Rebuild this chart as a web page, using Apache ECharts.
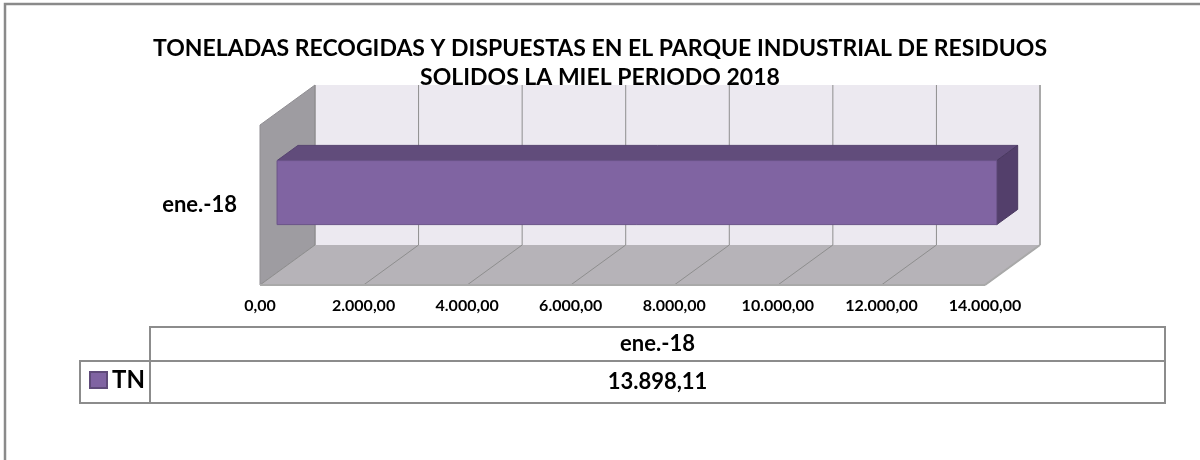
<!DOCTYPE html>
<html>
<head>
<meta charset="utf-8">
<script src="https://cdn.jsdelivr.net/npm/echarts@6/dist/echarts.min.js"></script>
<style>
html, body { margin: 0; padding: 0; background: #fff; }
#chart { width: 1200px; height: 460px; }
</style>
</head>
<body>
<div id="chart"></div>
<script>
var titleLines = ['TONELADAS RECOGIDAS Y DISPUESTAS EN EL PARQUE INDUSTRIAL DE RESIDUOS', 'SOLIDOS LA MIEL PERIODO 2018'];
var categories = ['ene.-18'];
var seriesName = 'TN';
var tnValues = [13898.11];
var axisMin = 0, axisMax = 14000, axisStep = 2000;

// 13898.11 -> "13.898,11"
function fmt(v) {
    var p = v.toFixed(2).split('.');
    return p[0].replace(/\B(?=(\d{3})+(?!\d))/g, '.') + ',' + p[1];
}

var font = 'Lato, Carlito, Calibri, sans-serif';
var depth = [55, -40];      // offset from front plane to back wall
var barFront = 0.31, barDepth = 0.38, barShare = 0.4;

function renderWalls(params, api) {
    var cs = params.coordSys;
    var dx = depth[0], dy = depth[1];
    var x0 = cs.x, x1 = cs.x + cs.width, top = cs.y, bottom = cs.y + cs.height;
    var children = [];
    children.push({ type: 'polygon', shape: { points: [[x0 + dx, top + dy], [x1 + dx, top + dy], [x1 + dx, bottom + dy], [x0 + dx, bottom + dy]] },
        style: { fill: '#ECE9F0', stroke: null } });
    children.push({ type: 'polygon', shape: { points: [[x0, top], [x0 + dx, top + dy], [x0 + dx, bottom + dy], [x0, bottom]] },
        style: { fill: '#9E9CA1', stroke: '#8f8d92', lineWidth: 1 } });
    children.push({ type: 'polygon', shape: { points: [[x0, bottom], [x1, bottom], [x1 + dx, bottom + dy], [x0 + dx, bottom + dy]] },
        style: { fill: '#B6B3B8', stroke: null } });
    for (var t = axisMin; t <= axisMax; t += axisStep) {
        var x = api.coord([t, 0])[0];
        children.push({ type: 'line', shape: { x1: x + dx, y1: top + dy, x2: x + dx, y2: bottom + dy },
            style: { stroke: '#8E8E8E', lineWidth: 1 } });
        children.push({ type: 'line', shape: { x1: x, y1: bottom, x2: x + dx, y2: bottom + dy },
            style: { stroke: '#8E8E8E', lineWidth: 1 } });
    }
    children.push({ type: 'line', shape: { x1: x0, y1: bottom, x2: x1, y2: bottom }, style: { stroke: '#A9A9A9', lineWidth: 2 } });
    children.push({ type: 'line', shape: { x1: x1 + dx, y1: top + dy, x2: x1 + dx, y2: bottom + dy }, style: { stroke: '#A9A9A9', lineWidth: 2 } });
    children.push({ type: 'line', shape: { x1: x1, y1: bottom, x2: x1 + dx, y2: bottom + dy }, style: { stroke: '#A9A9A9', lineWidth: 2 } });
    return { type: 'group', children: children };
}

function renderBar(params, api) {
    var c = api.value(1);
    var band = api.size([0, 1])[1];
    var p0 = api.coord([axisMin, c]), p1 = api.coord([api.value(0), c]);
    var h = band * barShare;
    var fx0 = p0[0] + depth[0] * barFront, fx1 = p1[0] + depth[0] * barFront;
    var fy0 = p0[1] + depth[1] * barFront - h / 2, fy1 = fy0 + h;
    var bx = depth[0] * barDepth, by = depth[1] * barDepth;
    return { type: 'group', children: [
        { type: 'polygon', shape: { points: [[fx0, fy0], [fx1, fy0], [fx1 + bx, fy0 + by], [fx0 + bx, fy0 + by]] },
          style: { fill: '#614C7B', stroke: '#574470', lineWidth: 1 } },
        { type: 'polygon', shape: { points: [[fx1, fy0], [fx1 + bx, fy0 + by], [fx1 + bx, fy1 + by], [fx1, fy1]] },
          style: { fill: '#533F6B', stroke: '#4a3960', lineWidth: 1 } },
        { type: 'rect', shape: { x: fx0, y: fy0, width: fx1 - fx0, height: h },
          style: { fill: '#8064A2', stroke: '#6A5388', lineWidth: 1 } }
    ] };
}

// data table below the chart
var tableLeft = 80, keyRight = 150, tableRight = 1165;
var headTop = 327, rowTop = 361, rowBottom = 403;
var tableGraphics = [
    { type: 'rect', shape: { x: 5, y: 4, width: 1210, height: 480 }, style: { fill: null, stroke: '#8A8A8A', lineWidth: 2.5 } },
    { type: 'rect', shape: { x: keyRight, y: headTop, width: tableRight - keyRight, height: rowTop - headTop }, style: { fill: null, stroke: '#8C8C8C', lineWidth: 2 } },
    { type: 'rect', shape: { x: tableLeft, y: rowTop, width: tableRight - tableLeft, height: rowBottom - rowTop }, style: { fill: null, stroke: '#8C8C8C', lineWidth: 2 } },
    { type: 'line', shape: { x1: keyRight, y1: rowTop, x2: keyRight, y2: rowBottom }, style: { stroke: '#8C8C8C', lineWidth: 2 } }
];
var colW = (tableRight - keyRight) / categories.length;
categories.forEach(function (cat, i) {
    var cx = keyRight + colW * (i + 0.5);
    if (i > 0) {
        tableGraphics.push({ type: 'line', shape: { x1: keyRight + colW * i, y1: headTop, x2: keyRight + colW * i, y2: rowBottom }, style: { stroke: '#8C8C8C', lineWidth: 2 } });
    }
    tableGraphics.push({ type: 'text', x: cx, y: (headTop + rowTop) / 2, style: { text: cat, fill: '#000', font: 'bold 22px ' + font, textAlign: 'center', textVerticalAlign: 'middle' } });
    tableGraphics.push({ type: 'text', x: cx, y: (rowTop + rowBottom) / 2, style: { text: fmt(tnValues[i]), fill: '#000', font: 'bold 22px ' + font, textAlign: 'center', textVerticalAlign: 'middle' } });
});

var myChart = echarts.init(document.getElementById('chart'));
option = {
    animation: false,
    title: {
        text: titleLines.join('\n'),
        left: 'center',
        top: 29,
        textStyle: { fontFamily: font, fontSize: 23, fontWeight: 'bold', color: '#000', lineHeight: 29 }
    },
    legend: {
        data: [seriesName],
        left: 89,
        top: 368,
        padding: 0,
        icon: 'rect',
        itemWidth: 17,
        itemHeight: 16,
        textStyle: { fontFamily: font, fontSize: 24, fontWeight: 'bold', color: '#000' }
    },
    grid: { left: 260, right: 215, top: 125, bottom: 175, outerBoundsMode: 'none' },
    xAxis: {
        type: 'value',
        min: axisMin,
        max: axisMax,
        interval: axisStep,
        axisLine: { show: false },
        axisTick: { show: false },
        splitLine: { show: false },
        axisLabel: { formatter: fmt, margin: 13, fontFamily: font, fontSize: 16, fontWeight: 'bold', color: '#000' }
    },
    yAxis: {
        type: 'category',
        data: categories,
        axisLine: { show: false },
        axisTick: { show: false },
        axisLabel: { margin: 23, padding: [8, 0, 0, 0], fontFamily: font, fontSize: 22, fontWeight: 'bold', color: '#000' }
    },
    graphic: tableGraphics,
    series: [{
            name: 'walls',
            type: 'custom',
            renderItem: renderWalls,
            data: [[axisMin, 0]],
            silent: true,
            z: 1
        },
        {
            name: seriesName,
            type: 'custom',
            renderItem: renderBar,
            encode: { x: 0, y: 1 },
            data: tnValues.map(function (v, i) { return [v, i]; }),
            itemStyle: { color: '#8064A2', borderColor: '#5F4B79', borderWidth: 1 },
            z: 2
        }
    ]
};
myChart.setOption(option);
</script>
</body>
</html>
